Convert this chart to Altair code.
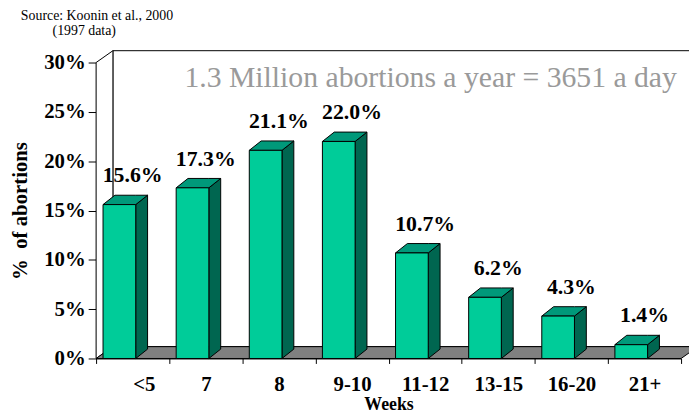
import altair as alt
import pandas as pd

# ---- data ----
categories = ["<5", "7", "8", "9-10", "11-12", "13-15", "16-20", "21+"]
values = [15.6, 17.3, 21.1, 22.0, 10.7, 6.2, 4.3, 1.4]
y_ticks = [0, 5, 10, 15, 20, 25, 30]
source_line1 = "Source: Koonin et al., 2000"
source_line2 = "(1997 data)"
annotation = "1.3 Million abortions a year = 3651 a day"

# ---- 3-D geometry in data units ----
N = len(categories)
YMAX = 30
WALL_DX, WALL_DY = 0.23, 1.2
BAR_OFF, BAR_W = 0.095, 0.447
BAR_DX, BAR_DY = 0.162, 0.95

FONT = "Liberation Serif"
FRONT, TOP, SIDE = "#00CC99", "#00997A", "#006650"

X_SCALE = alt.Scale(domain=[0, N], nice=False, zero=False)
Y_SCALE = alt.Scale(domain=[0, YMAX], nice=False)

cat_js = "[" + ",".join("'" + c + "'" for c in categories) + "]"
X_AXIS = alt.Axis(
    values=list(range(N + 1)),
    labelExpr=f"datum.value < {N} ? {cat_js}[datum.value] : ''",
    labelOffset=37, labelFont=FONT, labelFontSize=21, labelFontWeight="bold",
    labelColor="black", labelPadding=10, tickSize=5, tickColor="black",
    domainColor="black", grid=False, title="Weeks", titleFont=FONT,
    titleFontSize=18, titleFontWeight="bold", titleColor="black", titlePadding=2,
)
Y_AXIS = alt.Axis(
    values=y_ticks, labelExpr="datum.value + '%'", labelFont=FONT,
    labelFontSize=21, labelFontWeight="bold", labelColor="black",
    labelPadding=3, tickSize=8, tickColor="black", domainColor="black",
    grid=False, title="%\u00a0\u00a0of abortions", titleFont=FONT, titleFontSize=21,
    titleFontWeight="bold", titleColor="black", titlePadding=13,
)


def xq(field):
    return alt.X(field, type="quantitative", scale=X_SCALE, axis=X_AXIS)


def yq(field):
    return alt.Y(field, type="quantitative", scale=Y_SCALE, axis=Y_AXIS)


# back wall
back_df = pd.DataFrame({"x": [WALL_DX], "x2": [N + WALL_DX],
                        "y": [WALL_DY], "y2": [YMAX + WALL_DY]})
back = alt.Chart(back_df).mark_rect(fill="white", stroke="black", strokeWidth=1).encode(
    x=xq("x"), x2="x2", y=yq("y"), y2="y2")

# left wall
left_df = pd.DataFrame({"x": [0, WALL_DX], "y": [0, WALL_DY],
                        "y2": [YMAX, YMAX + WALL_DY]})
left = alt.Chart(left_df).mark_area(fill="white", stroke="black", strokeWidth=1).encode(
    x=xq("x"), y=yq("y"), y2="y2")

# floor
floor_df = pd.DataFrame({"x": [0, WALL_DX, N, N + WALL_DX],
                         "y": [0, 0, 0, WALL_DY],
                         "y2": [0, WALL_DY, WALL_DY, WALL_DY]})
floor = alt.Chart(floor_df).mark_area(fill="#808080", stroke="black", strokeWidth=1).encode(
    x=xq("x"), y=yq("y"), y2="y2")

# bars
front_rows, side_rows, top_rows = [], [], []
for i, v in enumerate(values):
    xl = i + BAR_OFF
    xr = xl + BAR_W
    front_rows.append({"id": i, "x": xl, "x2": xr, "y": 0, "y2": v})
    side_rows += [
        {"id": i, "x": xr, "y": 0, "y2": v},
        {"id": i, "x": xr + BAR_DX, "y": BAR_DY, "y2": v + BAR_DY},
    ]
    top_rows += [
        {"id": i, "x": xl, "y": v, "y2": v},
        {"id": i, "x": xl + BAR_DX, "y": v, "y2": v + BAR_DY},
        {"id": i, "x": xr, "y": v, "y2": v + BAR_DY},
        {"id": i, "x": xr + BAR_DX, "y": v + BAR_DY, "y2": v + BAR_DY},
    ]

side = alt.Chart(pd.DataFrame(side_rows)).mark_area(
    fill=SIDE, stroke="black", strokeWidth=1).encode(
    x=xq("x"), y=yq("y"), y2="y2", detail="id:N")
top = alt.Chart(pd.DataFrame(top_rows)).mark_area(
    fill=TOP, stroke="black", strokeWidth=1).encode(
    x=xq("x"), y=yq("y"), y2="y2", detail="id:N")
front = alt.Chart(pd.DataFrame(front_rows)).mark_rect(
    fill=FRONT, stroke="black", strokeWidth=1).encode(
    x=xq("x"), x2="x2", y=yq("y"), y2="y2")

# value labels
lab_df = pd.DataFrame({"x": [i + 0.5 for i in range(N)],
                       "y": [v + BAR_DY for v in values],
                       "t": [f"{v:.1f}%" for v in values]})
labels = alt.Chart(lab_df).mark_text(
    font=FONT, fontSize=22, fontWeight="bold", color="black",
    baseline="alphabetic", dy=-13).encode(x=xq("x"), y=yq("y"), text="t:N")

# annotations
ann = alt.Chart(pd.DataFrame({"t": [annotation]})).mark_text(
    font=FONT, fontSize=30, color="#9A9A9A", baseline="alphabetic", align="center"
).encode(x=alt.value(338), y=alt.value(25), text="t:N")
src1 = alt.Chart(pd.DataFrame({"t": [source_line1]})).mark_text(
    font=FONT, fontSize=14, color="black", baseline="alphabetic", align="left"
).encode(x=alt.value(-76), y=alt.value(-43), text="t:N")
src2 = alt.Chart(pd.DataFrame({"t": [source_line2]})).mark_text(
    font=FONT, fontSize=14, color="black", baseline="alphabetic", align="left"
).encode(x=alt.value(-44), y=alt.value(-28), text="t:N")

chart = alt.layer(back, left, floor, side, top, front, labels, ann, src1, src2).properties(
    width=591, height=299,
    padding={"left": 89, "top": 53, "right": 8, "bottom": 55},
    autosize=alt.AutoSizeParams(type="none"),
).configure(font=FONT).configure_view(stroke=None)

chart.save("out.html", embed_options={"renderer": "svg", "actions": False})
